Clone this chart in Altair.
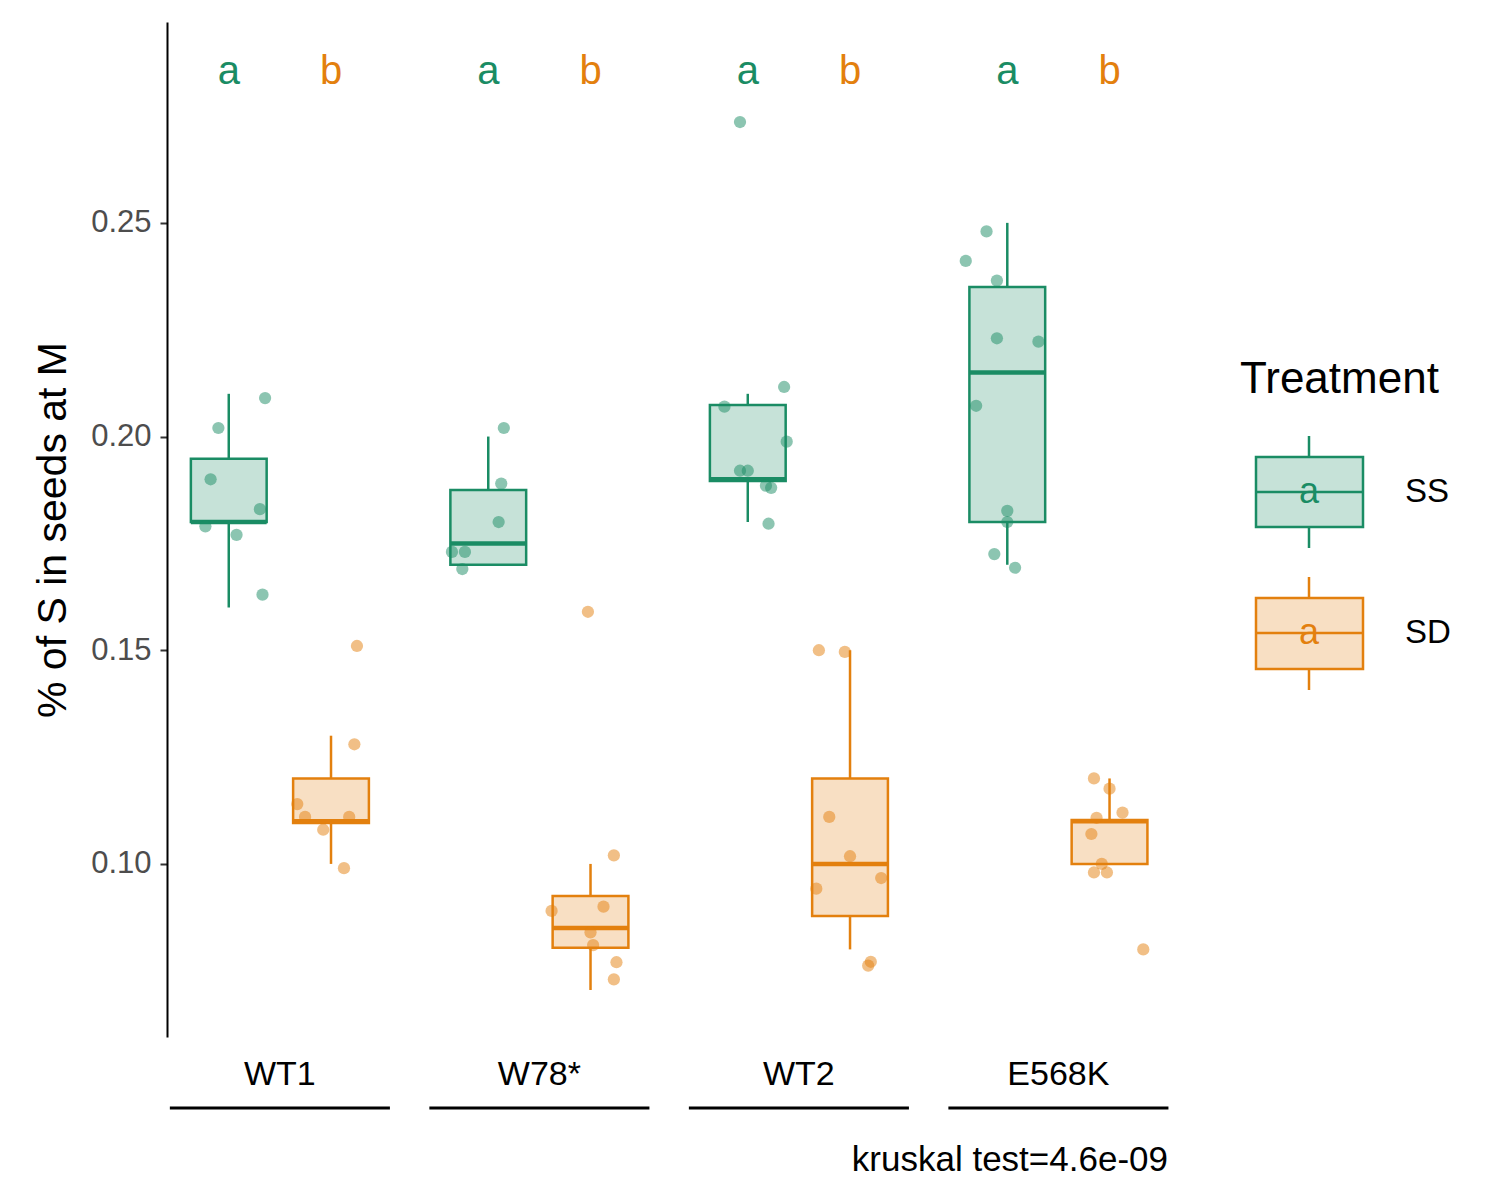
import altair as alt
import pandas as pd

groups = ["WT1", "W78*", "WT2", "E568K"]
treats = ["SS", "SD"]
colors = ["#1A8C64", "#E3800E"]

# box stats per (group, treatment): lo, q1, median, q3, hi
box_group = ["WT1", "WT1", "W78*", "W78*", "WT2", "WT2", "E568K", "E568K"]
box_treat = ["SS", "SD"] * 4
box_lo = [0.160, 0.100, 0.170, 0.0705, 0.180, 0.080, 0.170, 0.100]
box_q1 = [0.180, 0.1096, 0.170, 0.0804, 0.1896, 0.0878, 0.180, 0.100]
box_med = [0.180, 0.110, 0.175, 0.085, 0.190, 0.100, 0.215, 0.110]
box_q3 = [0.1948, 0.120, 0.1875, 0.0925, 0.2074, 0.120, 0.235, 0.1103]
box_hi = [0.210, 0.130, 0.200, 0.100, 0.210, 0.150, 0.250, 0.120]

# jittered observations: value and horizontal jitter (in group units)
pt_group = (["WT1"] * 14 + ["W78*"] * 14 + ["WT2"] * 17 + ["E568K"] * 19)
pt_treat = (["SS"] * 7 + ["SD"] * 7 + ["SS"] * 6 + ["SD"] * 8 +
            ["SS"] * 9 + ["SD"] * 8 + ["SS"] * 10 + ["SD"] * 9)
pt_value = [0.202, 0.190, 0.209, 0.183, 0.179, 0.177, 0.163,
            0.151, 0.128, 0.114, 0.111, 0.108, 0.111, 0.099,
            0.202, 0.189, 0.180, 0.173, 0.173, 0.169,
            0.159, 0.102, 0.089, 0.090, 0.084, 0.081, 0.077, 0.073,
            0.2736, 0.2116, 0.207, 0.1988, 0.192, 0.192, 0.1885, 0.188, 0.1796,
            0.150, 0.1496, 0.111, 0.1018, 0.0967, 0.0942, 0.0771, 0.0762,
            0.248, 0.2411, 0.2365, 0.223, 0.2222, 0.2072, 0.1826, 0.180, 0.1725, 0.1693,
            0.120, 0.1176, 0.1108, 0.112, 0.107, 0.100, 0.098, 0.098, 0.080]
pt_jitter = [-0.04, -0.07, 0.14, 0.12, -0.09, 0.03, 0.13,
             0.10, 0.09, -0.13, -0.10, -0.03, 0.07, 0.05,
             0.06, 0.05, 0.04, -0.14, -0.09, -0.10,
             -0.01, 0.09, -0.15, 0.05, 0.00, 0.01, 0.10, 0.09,
             -0.03, 0.14, -0.09, 0.15, -0.03, 0.00, 0.07, 0.09, 0.08,
             -0.12, -0.02, -0.08, 0.00, 0.12, -0.13, 0.08, 0.07,
             -0.08, -0.16, -0.04, -0.04, 0.12, -0.12, 0.00, 0.00, -0.05, 0.03,
             -0.06, 0.00, -0.05, 0.05, -0.07, -0.03, -0.06, -0.01, 0.13]

letter_group = ["WT1", "WT1", "W78*", "W78*", "WT2", "WT2", "E568K", "E568K"]
letter_treat = ["SS", "SD"] * 4
letter_text = ["a", "b"] * 4

OFF = {"SS": -0.197, "SD": 0.197}
HALF = 0.146

boxes = pd.DataFrame(dict(group=box_group, treat=box_treat, lo=box_lo, q1=box_q1,
                          med=box_med, q3=box_q3, hi=box_hi))
boxes["pos"] = boxes.group.map(groups.index) + boxes.treat.map(OFF)
boxes["left"] = boxes.pos - HALF
boxes["right"] = boxes.pos + HALF

pts = pd.DataFrame(dict(group=pt_group, treat=pt_treat, value=pt_value, jit=pt_jitter))
pts["pos"] = pts.group.map(groups.index) + pts.treat.map(OFF) + pts.jit

letters = pd.DataFrame(dict(group=letter_group, treat=letter_treat, text=letter_text))
letters["pos"] = letters.group.map(groups.index) + letters.treat.map(OFF)
letters["y"] = 0.2853

labels = pd.DataFrame(dict(group=groups))
labels["pos"] = labels.index.astype(float)
labels["left"] = labels.pos - 0.424
labels["right"] = labels.pos + 0.424

xs = alt.Scale(domain=[-0.435, 3.43], nice=False, zero=False)
ys = alt.Scale(domain=[0.0595, 0.297], nice=False, zero=False)
col = alt.Color("treat:N", scale=alt.Scale(domain=treats, range=colors), legend=None)

X = lambda f: alt.X(f, scale=xs, axis=None)
Y = lambda f: alt.Y(f, scale=ys, axis=None)

whisk_lo = alt.Chart(boxes).mark_rule(strokeWidth=2.5).encode(
    x=X("pos:Q"),
    y=alt.Y("lo:Q", scale=ys, title="% of S in seeds at M",
            axis=alt.Axis(values=[0.10, 0.15, 0.20, 0.25], format=".2f", grid=False,
                          domainColor="black", domainWidth=2, tickColor="#333",
                          tickWidth=2, tickSize=7, labelFontSize=31, labelColor="#4d4d4d",
                          titleFontSize=41, titleFontWeight="normal", titleColor="black",
                          titlePadding=16, labelPadding=9)),
    y2="q1:Q", color=col)

whisk_hi = alt.Chart(boxes).mark_rule(strokeWidth=2.5).encode(
    x=X("pos:Q"), y=Y("q3:Q"), y2="hi:Q", color=col)

box = alt.Chart(boxes).mark_rect(fillOpacity=0.25, strokeWidth=2.5).encode(
    x=X("left:Q"), x2="right:Q", y=Y("q1:Q"), y2="q3:Q",
    fill=col, stroke=col)

med = alt.Chart(boxes).mark_rule(strokeWidth=4.5).encode(
    x=X("left:Q"), x2="right:Q", y=Y("med:Q"), color=col)

dots = alt.Chart(pts).mark_circle(size=150, opacity=0.5).encode(
    x=X("pos:Q"), y=Y("value:Q"), color=col)

lett = alt.Chart(letters).mark_text(fontSize=40, baseline="middle").encode(
    x=X("pos:Q"), y=Y("y:Q"), text="text:N", color=col)

glab = alt.Chart(labels).mark_text(fontSize=34, baseline="middle", color="black").encode(
    x=X("pos:Q"), y=alt.value(1053), text="group:N")

gline = alt.Chart(labels).mark_rule(strokeWidth=3, color="black").encode(
    x=X("left:Q"), x2="right:Q", y=alt.value(1086))

note = alt.Chart(pd.DataFrame({"t": ["kruskal test=4.6e-09"]})).mark_text(
    fontSize=35, align="right", baseline="middle", color="black").encode(
    x=alt.value(1001), y=alt.value(1138), text="t:N")

# legend drawn by hand
leg = pd.DataFrame(dict(treat=treats, wt=[414, 555], bt=[435, 576], md=[470, 611],
                        bb=[505, 647], wb=[526, 668]))
LY = lambda f: alt.Y(f, scale=None, axis=None)
lw1 = alt.Chart(leg).mark_rule(strokeWidth=2.5).encode(
    x=alt.value(1142), y=LY("wt:Q"), y2="bt:Q", color=col)
lw2 = alt.Chart(leg).mark_rule(strokeWidth=2.5).encode(
    x=alt.value(1142), y=LY("bb:Q"), y2="wb:Q", color=col)
lb = alt.Chart(leg).mark_rect(fillOpacity=0.25, strokeWidth=2.5).encode(
    x=alt.value(1089), x2=alt.value(1196), y=LY("bt:Q"), y2="bb:Q", fill=col, stroke=col)
lm = alt.Chart(leg).mark_rule(strokeWidth=2.5).encode(
    x=alt.value(1089), x2=alt.value(1196), y=LY("md:Q"), color=col)
la = alt.Chart(leg).mark_text(fontSize=36, baseline="middle", text="a").encode(
    x=alt.value(1142), y=LY("md:Q"), color=col)
lt = alt.Chart(leg).mark_text(fontSize=33, align="left", baseline="middle", color="black").encode(
    x=alt.value(1238), y=LY("md:Q"), text="treat:N")
ltitle = alt.Chart(pd.DataFrame({"t": ["Treatment"]})).mark_text(
    fontSize=44, align="left", baseline="middle", color="black").encode(
    x=alt.value(1073), y=alt.value(358), text="t:N")

chart = alt.layer(whisk_lo, whisk_hi, box, med, dots, lett, glab, gline, note,
                  lw1, lw2, lb, lm, la, lt, ltitle).resolve_scale(y="independent").properties(
    width=1003, height=1015,
    autosize=alt.AutoSizeParams(type="none"),
    padding={"left": 159, "top": 14, "right": 300, "bottom": 150},
).configure_view(stroke=None).configure_text(font="Liberation Sans").configure_axis(
    labelFont="Liberation Sans", titleFont="Liberation Sans")

chart.save("out.html", embed_options={"renderer": "svg", "actions": False})
